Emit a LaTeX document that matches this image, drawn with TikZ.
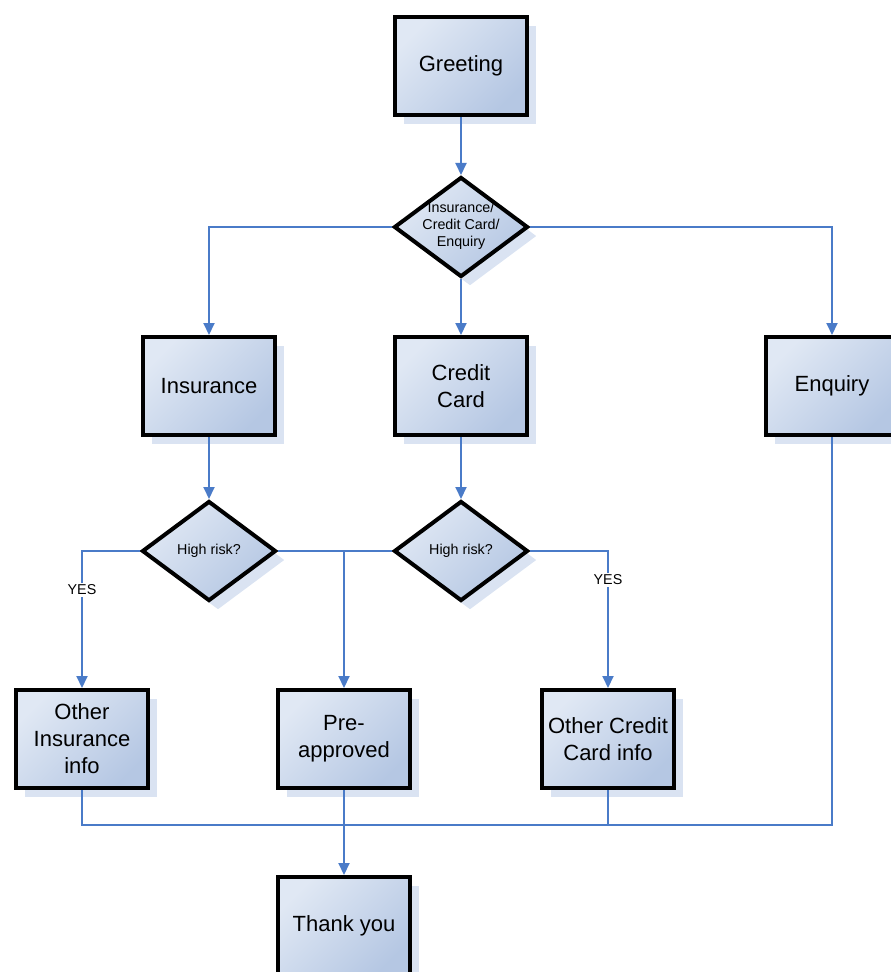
\documentclass[tikz,border=0pt]{standalone}
\usepackage{fontspec}
\setmainfont{Liberation Sans}
\usetikzlibrary{shapes.geometric,arrows.meta,shadows}
\definecolor{lineblue}{HTML}{4A7BC8}
\definecolor{fillA}{HTML}{E0E8F4}
\definecolor{fillB}{HTML}{B5C7E3}
\definecolor{shadowc}{HTML}{DAE3F2}
\begin{document}
\begin{tikzpicture}[x=1pt,y=-1pt,
  boxshape/.style={draw=black, line width=4pt, top color=fillA, bottom color=fillB, shading angle=45,
    general shadow={fill=shadowc, shadow xshift=9pt, shadow yshift=-9pt}},
  stepbox/.style={boxshape, rectangle, minimum width=132pt, minimum height=98pt, inner sep=0pt,
    align=center, font=\fontsize{22}{27}\selectfont},
  decide/.style={boxshape, diamond, minimum width=134pt, minimum height=100pt, inner sep=0pt},
  dtext/.style={align=center, font=\fontsize{14.3}{17}\selectfont, inner sep=0pt},
  wire/.style={draw=lineblue, line width=2pt},
  conn/.style={wire, -{Triangle[width=11pt,length=12pt]}},
  yes/.style={fill=white, inner sep=1.5pt, font=\fontsize{14.3}{16}\selectfont}]
\useasboundingbox (0,0) rectangle (891,972);

% nodes
\node[stepbox] (greet) at (461,66) {Greeting};
\node[decide] (d1) at (461,227) {};
\node[dtext] (d1t) at (461,226) {Insurance/\\Credit Card/\\Enquiry};
\node[stepbox] (ins) at (209,386) {Insurance};
\node[stepbox] (cc) at (461,386) {Credit\\Card};
\node[stepbox] (enq) at (832,386) {Enquiry};
\node[decide] (hr1) at (209,551) {};
\node[dtext] (hr1t) at (209,551) {High risk?};
\node[decide] (hr2) at (461,551) {};
\node[dtext] (hr2t) at (461,551) {High risk?};
\node[stepbox] (oins) at (82,739) {Other\\Insurance\\info};
\node[stepbox] (pre) at (344,739) {Pre-\\approved};
\node[stepbox] (occ) at (608,739) {Other Credit\\Card info};
\node[stepbox] (thank) at (344,926) {Thank you};

\coordinate (j1) at (344,551);
\coordinate (mL) at (82,825);
\coordinate (mR) at (832,825);

% connectors
\draw[conn] (greet) -- (d1);
\draw[conn] (d1.west) -| (ins);
\draw[conn] (d1) -- (cc);
\draw[conn] (d1.east) -| (enq);
\draw[conn] (ins) -- (hr1);
\draw[conn] (cc) -- (hr2);
\draw[conn] (hr1.west) -| (oins);
\draw[conn] (hr2.east) -| (occ);
\draw[wire] (hr1.east) -- (hr2.west);
\draw[conn] (j1) -- (pre);
\draw[wire] (oins.south) -- (mL) -- (mR) -- (enq.south);
\draw[wire] (occ.south) -- (occ.south |- mL);
\draw[conn] (pre) -- (thank);

\node[yes] (yes1) at (82,590) {YES};
\node[yes] (yes2) at (608,580) {YES};
\end{tikzpicture}
\end{document}
